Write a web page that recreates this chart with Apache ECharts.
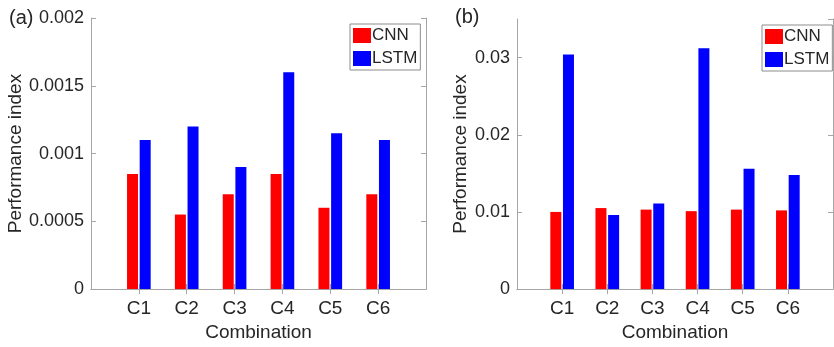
<!DOCTYPE html>
<html>
<head>
<meta charset="utf-8">
<script src="https://cdn.jsdelivr.net/npm/echarts@6/dist/echarts.min.js"></script>
<style>
  html, body { margin: 0; padding: 0; background: #fff; }
  #main { width: 834px; height: 347px; }
</style>
</head>
<body>
<div id="main"></div>
<script>
var categories = ['C1', 'C2', 'C3', 'C4', 'C5', 'C6'];
// (a)
var cnnA = [0.00085, 0.00055, 0.0007, 0.00085, 0.0006, 0.0007];
var lstmA = [0.0011, 0.0012, 0.0009, 0.0016, 0.00115, 0.0011];
// (b)
var cnnB = [0.0100, 0.0105, 0.0103, 0.0101, 0.0103, 0.0102];
var lstmB = [0.0304, 0.0096, 0.0111, 0.0312, 0.0156, 0.0148];

var yTicksA = [0, 0.002, 0.0005];
var yTicksB = [0, 0.035, 0.01];

// matlab puts the categories at 1..6 with limits 0..7, so pad both ends
var cats = [''].concat(categories, ['']);
function pad(arr) { return [null].concat(arr, [null]); }

var font = 'Liberation Sans';
var lineCol = '#a6a6a6';
var txtCol = '#262626';
var inner = function (i) { return i > 0 && i < cats.length - 1; };

function xAx(grid, pos, labels) {
    return {
        type: 'category', gridIndex: grid, position: pos, data: cats,
        boundaryGap: false,
        axisLine: { lineStyle: { color: lineCol, width: 1 } },
        axisTick: { inside: true, length: 5, interval: inner, lineStyle: { color: lineCol } },
        axisLabel: { show: labels, interval: inner, color: txtCol, fontSize: 19, fontFamily: font, margin: 10 },
        name: labels ? 'Combination' : '', nameLocation: 'middle', nameGap: 33,
        nameTextStyle: { color: txtCol, fontSize: 19, fontFamily: font },
        splitLine: { show: false }
    };
}
function yAx(grid, pos, ticks, labels, gap) {
    return {
        type: 'value', gridIndex: grid, position: pos,
        min: ticks[0], max: ticks[1], interval: ticks[2],
        axisLine: { show: true, lineStyle: { color: lineCol, width: 1 } },
        axisTick: { show: true, inside: true, length: 5, lineStyle: { color: lineCol } },
        axisLabel: { show: labels, color: txtCol, fontSize: 18, fontFamily: font, margin: 7, showMaxLabel: ticks[1] === 0.002 },
        splitLine: { show: false },
        name: labels ? 'Performance index' : '', nameLocation: 'middle', nameGap: gap,
        nameTextStyle: { color: txtCol, fontSize: 19, fontFamily: font }
    };
}
function legendAt(left, top) {
    return {
        orient: 'vertical', left: left, top: top,
        data: ['CNN', 'LSTM'], icon: 'rect',
        itemWidth: 18, itemHeight: 15, itemGap: 6,
        padding: [3, 3, 3, 3],
        borderColor: '#8c8c8c', borderWidth: 1, backgroundColor: '#fff',
        textStyle: { color: txtCol, fontSize: 17, fontFamily: font, padding: [0, 0, 0, -4] }
    };
}
function bar(name, color, data, xi, yi) {
    return {
        name: name, type: 'bar', data: pad(data),
        xAxisIndex: xi, yAxisIndex: yi,
        barWidth: 11, barGap: '15%',
        itemStyle: { color: color },
        animation: false
    };
}

var myChart = echarts.init(document.getElementById('main'));
var option = {
    backgroundColor: '#fff',
    animation: false,
    title: [
        { text: '(a)', left: 4, top: 3, textStyle: { fontSize: 20, fontWeight: 'normal', color: txtCol, fontFamily: font } },
        { text: '(b)', left: 450, top: 2, textStyle: { fontSize: 20, fontWeight: 'normal', color: txtCol, fontFamily: font } }
    ],
    legend: [legendAt(350, 24), legendAt(762, 25)],
    grid: [
        { left: 91, top: 18, width: 335, height: 273 },
        { left: 517, top: 19, width: 316, height: 272 }
    ],
    xAxis: [xAx(0, 'bottom', true), xAx(0, 'top', false), xAx(1, 'bottom', true), xAx(1, 'top', false)],
    yAxis: [yAx(0, 'left', yTicksA, true, 65), yAx(0, 'right', yTicksA, false, 0),
            yAx(1, 'left', yTicksB, true, 47), yAx(1, 'right', yTicksB, false, 0)],
    series: [
        bar('CNN', '#ff0000', cnnA, 0, 0),
        bar('LSTM', '#0000ff', lstmA, 0, 0),
        bar('CNN', '#ff0000', cnnB, 2, 2),
        bar('LSTM', '#0000ff', lstmB, 2, 2)
    ]
};
myChart.setOption(option);
</script>
</body>
</html>
